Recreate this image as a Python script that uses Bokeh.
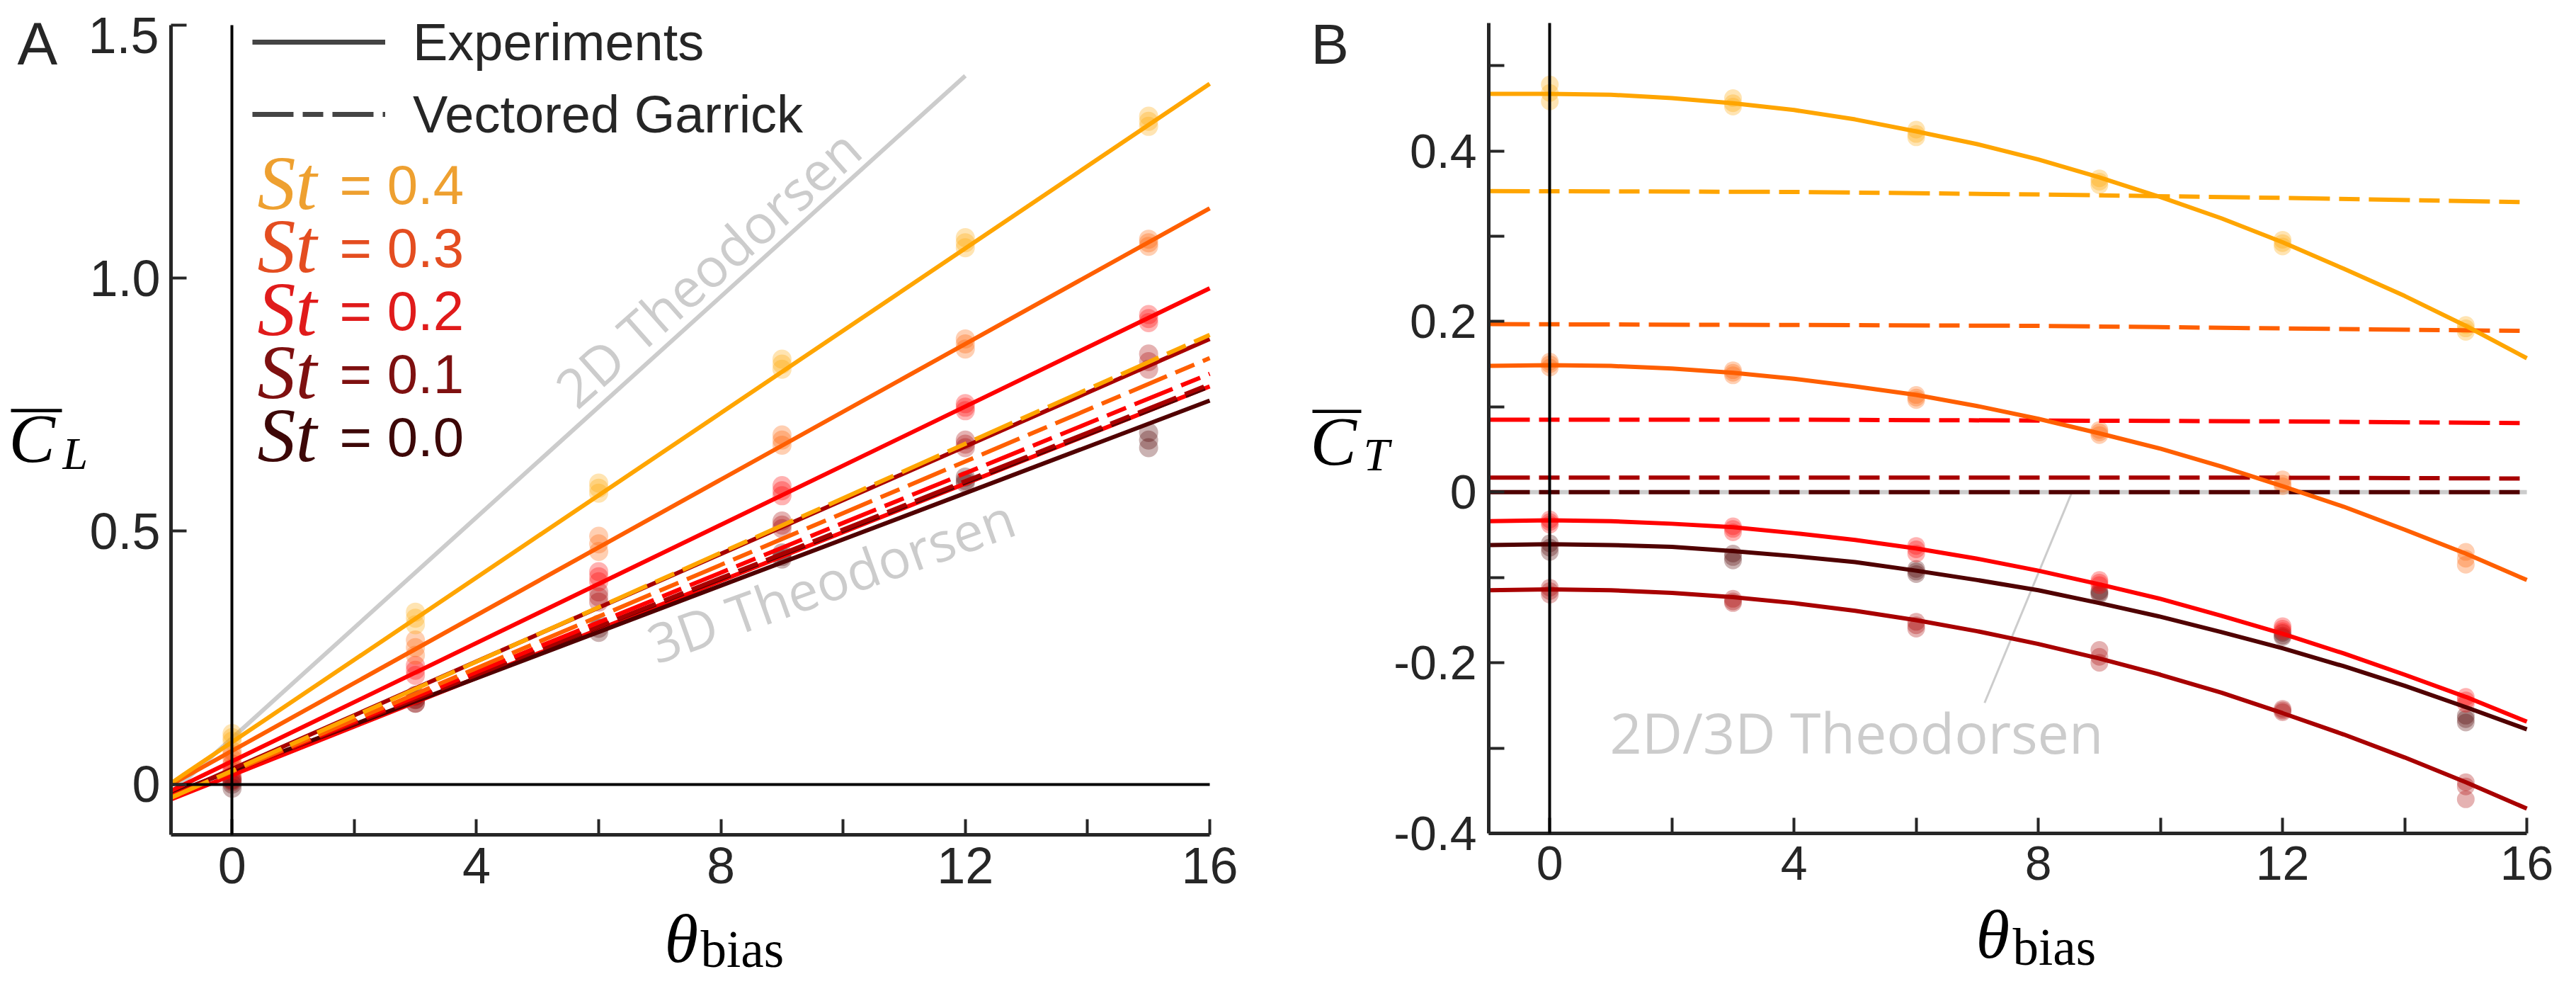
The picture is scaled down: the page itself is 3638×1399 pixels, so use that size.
from bokeh.plotting import figure
from bokeh.layouts import row
from bokeh.models import Label, Legend, LegendItem, FixedTicker, Range1d, LinearAxis
from bokeh.embed import file_html
from bokeh.resources import INLINE

# ---------------- data ----------------
st_values = ["0.4", "0.3", "0.2", "0.1", "0.0"]
line_colors = ["#FFA500", "#FF5F00", "#FF0000", "#A80000", "#500000"]
text_colors = ["#EEA030", "#E44D20", "#E01B1B", "#7E1010", "#3D0707"]

x_major_ticks = [0, 4, 8, 12, 16]
x_minor_ticks = [2, 6, 10, 14]
cl_ticks = [0, 0.5, 1.0, 1.5]
cl_tick_labels = ["0", "0.5", "1.0", "1.5"]
ct_ticks = [-0.4, -0.2, 0, 0.2, 0.4]
ct_minor_ticks = [-0.3, -0.1, 0.1, 0.3, 0.5]
ct_tick_labels = ["-0.4", "-0.2", "0", "0.2", "0.4"]
theta_bounds = (-1, 16)
cl_bounds = (-0.1, 1.5)
ct_bounds = (-0.4, 0.55)

# experiments, panel A (lift), three trials per bias angle
theta_pts = [0, 0, 0, 3, 3, 3, 6, 6, 6, 9, 9, 9, 12, 12, 12, 15, 15, 15]
cl_pts_st04 = [0.085, 0.092, 0.10, 0.315, 0.328, 0.34, 0.575, 0.585, 0.595, 0.82, 0.83, 0.84, 1.06, 1.07, 1.08, 1.30, 1.31, 1.32]
cl_pts_st03 = [0.05, 0.058, 0.066, 0.255, 0.27, 0.285, 0.46, 0.475, 0.49, 0.67, 0.68, 0.69, 0.86, 0.87, 0.88, 1.063, 1.07, 1.077]
cl_pts_st02 = [0.025, 0.032, 0.04, 0.215, 0.225, 0.235, 0.40, 0.41, 0.42, 0.57, 0.58, 0.59, 0.738, 0.745, 0.752, 0.912, 0.92, 0.928]
cl_pts_st01 = [0.005, 0.01, 0.015, 0.16, 0.168, 0.176, 0.36, 0.37, 0.38, 0.505, 0.512, 0.52, 0.665, 0.672, 0.68, 0.82, 0.835, 0.85]
cl_pts_st00 = [-0.008, 0.0, 0.008, 0.16, 0.167, 0.174, 0.30, 0.308, 0.316, 0.445, 0.45, 0.457, 0.595, 0.60, 0.607, 0.665, 0.68, 0.695]

# linear fits (solid) and vectored Garrick (dashed), panel A
cl_fit_theta = [-1, 16]
cl_fit_st04 = [0.002, 1.384]
cl_fit_st03 = [-0.001, 1.138]
cl_fit_st02 = [-0.013, 0.98]
cl_fit_st01 = [-0.023, 0.88]
cl_fit_st00 = [-0.019, 0.758]
cl_extra_red = [-0.03, 0.786]
cl_vg_st04 = [-0.027, 0.888]
cl_vg_st03 = [-0.026, 0.842]
cl_vg_st02 = [-0.024, 0.811]
cl_vg_st01 = [-0.023, 0.790]
cl_vg_st00 = [-0.022, 0.786]
theo2d_theta = [-1, 12]
theo2d_cl = [-0.018, 1.40]

# experiments, panel B (thrust)
ct_pts_st04 = [0.458, 0.468, 0.478, 0.452, 0.456, 0.462, 0.416, 0.42, 0.425, 0.36, 0.364, 0.368, 0.288, 0.292, 0.296, 0.188, 0.192, 0.196]
ct_pts_st03 = [0.146, 0.15, 0.153, 0.137, 0.14, 0.143, 0.108, 0.111, 0.114, 0.067, 0.07, 0.073, 0.007, 0.01, 0.015, -0.085, -0.078, -0.07]
ct_pts_st02 = [-0.038, -0.035, -0.032, -0.047, -0.043, -0.04, -0.072, -0.067, -0.063, -0.109, -0.106, -0.103, -0.163, -0.16, -0.157, -0.248, -0.244, -0.24]
ct_pts_st01 = [-0.12, -0.116, -0.112, -0.13, -0.128, -0.125, -0.16, -0.156, -0.152, -0.2, -0.193, -0.185, -0.258, -0.256, -0.254, -0.36, -0.345, -0.34]
ct_pts_st00 = [-0.07, -0.065, -0.06, -0.08, -0.076, -0.072, -0.096, -0.093, -0.09, -0.12, -0.118, -0.116, -0.17, -0.168, -0.165, -0.27, -0.266, -0.262]

# quadratic fits (solid), panel B
ct_fit_theta = [-1, 0, 1, 2, 3, 4, 5, 6, 7, 8, 9, 10, 11, 12, 13, 14, 15, 16]
ct_fit_st04 = [0.467, 0.467, 0.466, 0.462, 0.456, 0.448, 0.437, 0.423, 0.408, 0.390, 0.369, 0.346, 0.321, 0.293, 0.262, 0.230, 0.195, 0.157]
ct_fit_st03 = [0.148, 0.149, 0.148, 0.145, 0.140, 0.133, 0.124, 0.114, 0.101, 0.086, 0.069, 0.051, 0.030, 0.007, -0.017, -0.044, -0.072, -0.103]
ct_fit_st02 = [-0.034, -0.033, -0.034, -0.037, -0.041, -0.048, -0.056, -0.066, -0.078, -0.092, -0.108, -0.125, -0.145, -0.166, -0.189, -0.214, -0.240, -0.269]
ct_fit_st01 = [-0.115, -0.114, -0.115, -0.118, -0.123, -0.130, -0.139, -0.150, -0.163, -0.178, -0.195, -0.214, -0.235, -0.259, -0.284, -0.311, -0.340, -0.371]
ct_fit_st00 = [-0.062, -0.061, -0.062, -0.064, -0.069, -0.075, -0.082, -0.092, -0.103, -0.115, -0.130, -0.146, -0.164, -0.183, -0.204, -0.227, -0.252, -0.278]

# vectored Garrick (dashed), panel B
ct_vg_theta = [-1, 4, 8, 12, 16]
ct_vg_st04 = [0.353, 0.352, 0.349, 0.345, 0.340]
ct_vg_st03 = [0.197, 0.196, 0.195, 0.192, 0.189]
ct_vg_st02 = [0.085, 0.085, 0.084, 0.083, 0.081]
ct_vg_st01 = [0.017, 0.017, 0.017, 0.017, 0.016]
ct_vg_st00 = [0.0, 0.0, 0.0, 0.0, 0.0]
theo_ct_theta = [-1, 16]
theo_ct = [0.0, 0.0]
leader_theta = [7.12, 8.55]
leader_ct = [-0.247, 0.0]

cl_pts = [cl_pts_st04, cl_pts_st03, cl_pts_st02, cl_pts_st01, cl_pts_st00]
cl_fit = [cl_fit_st04, cl_fit_st03, cl_fit_st02, cl_fit_st01, cl_fit_st00]
cl_vg = [cl_vg_st04, cl_vg_st03, cl_vg_st02, cl_vg_st01, cl_vg_st00]
ct_pts = [ct_pts_st04, ct_pts_st03, ct_pts_st02, ct_pts_st01, ct_pts_st00]
ct_fit = [ct_fit_st04, ct_fit_st03, ct_fit_st02, ct_fit_st01, ct_fit_st00]
ct_vg = [ct_vg_st04, ct_vg_st03, ct_vg_st02, ct_vg_st01, ct_vg_st00]

# ---------------- styles / geometry ----------------
DASH = "58 13 29 13"
AXC = "#262626"
GRAY = "#CCCCCC"
SANS = "Liberation Sans"
SERIF = "Liberation Serif"
LW = 6
PT_SIZE = 27
PT_ALPHA = 0.3
BASE_FIX = 0.3   # baseline correction of Label text, in em

W_A, W_B, H = 1800, 1812, 1383
MARGIN = 8

# page pixel position of data origin and pixels per data unit
X0A, SXA, Y0A, SYA = 335.29, 86.29, 1114.56, 714.4
X0B, SXB, Y0B, SYB = 2196.24, 86.24, 702.32, 1204.2


def ax_(px):
    return (px - X0A) / SXA


def ay_(py):
    return (Y0A - py) / SYA


def bx_(px):
    return (px - X0B) / SXB


def by_(py):
    return (Y0B - py) / SYB


def base_fig(xr, yr, w):
    p = figure(width=w, height=H, x_range=xr, y_range=yr, output_backend="svg",
               toolbar_location=None, title=None, x_axis_location=None,
               y_axis_location=None, min_border=0)
    p.min_border_left = 0
    p.min_border_right = 0
    p.min_border_top = 0
    p.min_border_bottom = 0
    p.xgrid.visible = False
    p.ygrid.visible = False
    p.outline_line_color = None
    p.background_fill_color = "white"
    p.border_fill_color = "white"
    return p


def add_axis(p, side, loc, bounds, ticks, minor, labels, fs, standoff):
    ax = LinearAxis(fixed_location=loc, bounds=bounds,
                    ticker=FixedTicker(ticks=ticks, minor_ticks=minor))
    ax.major_label_overrides = {t: s for t, s in zip(ticks, labels)}
    ax.axis_line_width = 5
    ax.axis_line_color = AXC
    ax.major_tick_in = 22
    ax.major_tick_out = 0
    ax.minor_tick_in = 22
    ax.minor_tick_out = 0
    ax.major_tick_line_width = 4
    ax.minor_tick_line_width = 4
    ax.major_tick_line_color = AXC
    ax.minor_tick_line_color = AXC
    ax.major_label_text_font = SANS
    ax.major_label_text_font_size = f"{fs}px"
    ax.major_label_text_color = AXC
    ax.major_label_standoff = standoff
    p.add_layout(ax, side)


def add_zero_line(p, side, loc, bounds):
    ax = LinearAxis(fixed_location=loc, bounds=bounds, ticker=FixedTicker(ticks=[], minor_ticks=[]))
    ax.axis_line_width = 4
    ax.axis_line_color = "black"
    ax.major_tick_line_color = None
    ax.minor_tick_line_color = None
    ax.major_label_text_font_size = "0px"
    p.add_layout(ax, side)


def lab(p, x, y, text, font, size, color, style="normal", align="left",
        baseline="alphabetic", angle=0.0):
    p.add_layout(Label(x=x, y=y, text=text, text_font=font, text_font_size=f"{size}px",
                       text_color=color, text_font_style=style, text_align=align,
                       text_baseline=baseline, angle=angle))


def lab_px(p, fx, fy, px, py, text, font, size, color, style="normal", align="left"):
    # px, py: page pixel of the text's anchor end and baseline
    lab(p, fx(px), fy(py - BASE_FIX * size), text, font, size, color, style=style, align=align)


# ---------------- panel A ----------------
pA = base_fig(Range1d(ax_(MARGIN), ax_(MARGIN + W_A)),
              Range1d(ay_(MARGIN + H), ay_(MARGIN)), W_A)

pA.line(theo2d_theta, theo2d_cl, line_color=GRAY, line_width=LW)
for i in range(4, -1, -1):
    pA.scatter(theta_pts, cl_pts[i], size=PT_SIZE, fill_color=line_colors[i],
               fill_alpha=PT_ALPHA, line_color=None)
pA.line(cl_fit_theta, cl_extra_red, line_color=line_colors[2], line_width=LW)
for i in range(4, -1, -1):
    pA.line(cl_fit_theta, cl_fit[i], line_color=line_colors[i], line_width=LW)
for i in range(4, -1, -1):
    pA.line(cl_fit_theta, cl_vg[i], line_color=line_colors[i], line_width=LW, line_dash=DASH)

add_zero_line(pA, "left", 0, cl_bounds)
add_zero_line(pA, "below", 0, theta_bounds)
# the topmost label sits a little below its tick (as in the original); drawn as a label
cl_axis_labels = cl_tick_labels[:-1] + [""]
add_axis(pA, "left", theta_bounds[0], cl_bounds, cl_ticks, [], cl_axis_labels, 72, 15)
lab_px(pA, ax_, ay_, 232, 79, cl_tick_labels[-1], SANS, 72, AXC, align="right")
add_axis(pA, "below", cl_bounds[0], theta_bounds, x_major_ticks, x_minor_ticks,
         [str(t) for t in x_major_ticks], 72, 18)

# legend (location = bottom-left corner, frame pixels from bottom-left)
nan = float("nan")
r_exp = pA.line([nan], [nan], line_color="#444444", line_width=7)
r_vg = pA.line([nan], [nan], line_color="#444444", line_width=7, line_dash=DASH)
LEG_BOTTOM = 219
legend = Legend(items=[LegendItem(label="Experiments", renderers=[r_exp]),
                       LegendItem(label="Vectored Garrick", renderers=[r_vg])],
                location=(364 - MARGIN, H - (LEG_BOTTOM - MARGIN)), orientation="vertical",
                glyph_width=188, glyph_height=100, label_height=100, spacing=2,
                label_standoff=39, padding=0, margin=0, border_line_color=None,
                background_fill_alpha=0, label_text_font=SANS,
                label_text_font_size="74px", label_text_color=AXC)
pA.add_layout(legend)

st_base = [292, 381, 470, 559, 648]
for i in range(5):
    lab_px(pA, ax_, ay_, 371, st_base[i] + 6, "St", SERIF, 108, text_colors[i], style="italic")
    lab_px(pA, ax_, ay_, 487, st_base[i], "= " + st_values[i], SANS, 78, text_colors[i])

lab(pA, 7.78, 1.021, "2D Theodorsen", "Open Sans", 76, GRAY, align="center",
    baseline="middle", angle=0.726)
lab(pA, 9.80, 0.404, "3D Theodorsen", "Open Sans", 76, GRAY, align="center",
    baseline="middle", angle=0.345)

lab_px(pA, ax_, ay_, 32, 94, "A", SANS, 85, AXC)
lab_px(pA, ax_, ay_, 23, 602, "\u2014", SANS, 72, "black")
lab_px(pA, ax_, ay_, 20, 656, "C", SERIF, 98, "black", style="italic")
lab_px(pA, ax_, ay_, 96, 667, "L", SERIF, 64, "black", style="italic")
lab_px(pA, ax_, ay_, 946, 1362, "\u03b8", SERIF, 97, "black", style="italic")
lab_px(pA, ax_, ay_, 997, 1370, "bias", SERIF, 73, "black")

# ---------------- panel B ----------------
pB = base_fig(Range1d(bx_(MARGIN + W_A), bx_(MARGIN + W_A + W_B)),
              Range1d(by_(MARGIN + H), by_(MARGIN)), W_B)

pB.line(theo_ct_theta, theo_ct, line_color=GRAY, line_width=LW)
pB.line(leader_theta, leader_ct, line_color=GRAY, line_width=3)
for i in range(4, -1, -1):
    pB.scatter(theta_pts, ct_pts[i], size=PT_SIZE - 2, fill_color=line_colors[i],
               fill_alpha=PT_ALPHA, line_color=None)
for i in range(4, -1, -1):
    pB.line(ct_vg_theta, ct_vg[i], line_color=line_colors[i], line_width=LW, line_dash=DASH)
for i in range(4, -1, -1):
    pB.line(ct_fit_theta, ct_fit[i], line_color=line_colors[i], line_width=LW)

add_zero_line(pB, "left", 0, ct_bounds)
add_axis(pB, "left", theta_bounds[0], ct_bounds, ct_ticks, ct_minor_ticks, ct_tick_labels, 68, 17)
add_axis(pB, "below", ct_bounds[0], theta_bounds, x_major_ticks, x_minor_ticks,
         [str(t) for t in x_major_ticks], 68, 18)

lab_px(pB, bx_, by_, 2281, 1065, "2D/3D Theodorsen", "Open Sans", 79, GRAY)
lab_px(pB, bx_, by_, 1859, 94, "B", SANS, 80, AXC)
lab_px(pB, bx_, by_, 1861, 603, "\u2014", SANS, 69, "black")
lab_px(pB, bx_, by_, 1858, 660, "C", SERIF, 98, "black", style="italic")
lab_px(pB, bx_, by_, 1933, 669, "T", SERIF, 66, "black", style="italic")
lab_px(pB, bx_, by_, 2798, 1356, "\u03b8", SERIF, 97, "black", style="italic")
lab_px(pB, bx_, by_, 2850, 1367, "bias", SERIF, 73, "black")

layout = row(pA, pB)
open("out.html", "w").write(file_html(layout, INLINE, title="CL CT vs theta bias"))
